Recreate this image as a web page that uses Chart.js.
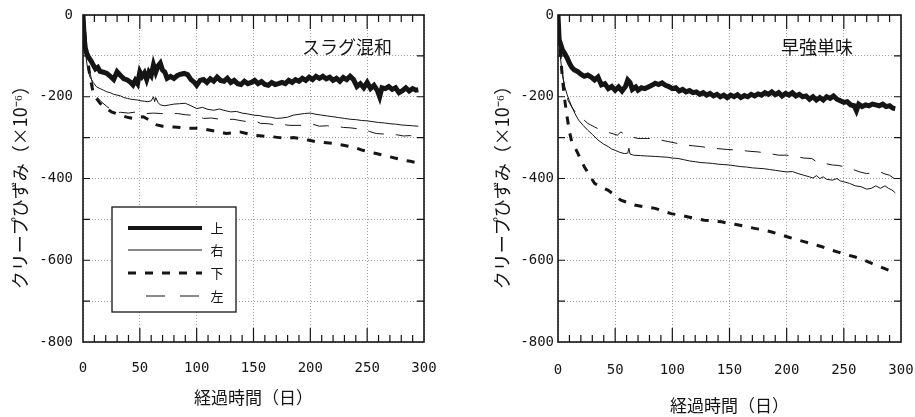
<!DOCTYPE html>
<html>
<head>
<meta charset="utf-8">
<script src="https://cdn.jsdelivr.net/npm/chart.js@4/dist/chart.umd.min.js"></script>
<style>
html, body { margin:0; padding:0; background:#fff; }
#wrap { position:relative; width:915px; height:417px; overflow:hidden; }
#left { position:absolute; left:0; top:0; }
#right { position:absolute; left:457px; top:0; }
</style>
</head>
<body>
<div id="wrap">
  <canvas id="left" width="457" height="417"></canvas>
  <canvas id="right" width="458" height="417"></canvas>
</div>
<script>
// labels
const seriesNames = ['上', '右', '下', '左'];
const panelTitles = ['スラグ混和', '早強単味'];
const xTitle = '経過時間（日）';
const yTitle = 'クリープひずみ（×10⁻⁶）\u3000';

// スラグ混和 (left)
const slagTopDays = [0,1,2,3,5,7,9,11,13,15,18,21,24,27,30,33,36,39,42,44,46,48,50,52,54,56,58,60,62,64,66,68,70,72,74,77,80,83,86,89,92,95,98,100,103,106,109,112,115,118,121,124,127,130,133,136,139,142,145,148,151,154,157,160,163,166,169,172,175,178,181,184,187,190,193,196,199,202,205,208,211,214,217,220,223,226,229,232,235,238,241,244,247,250,253,256,259,261,263,266,269,272,275,278,281,284,287,290,293,295];
const slagTop = [0,-55,-80,-92,-104,-112,-122,-132,-128,-138,-140,-143,-150,-158,-139,-148,-156,-159,-165,-171,-160,-168,-139,-150,-142,-158,-140,-148,-122,-140,-125,-118,-135,-140,-155,-150,-155,-148,-145,-143,-146,-158,-165,-172,-160,-158,-165,-156,-162,-152,-160,-162,-155,-165,-160,-168,-170,-162,-168,-165,-160,-168,-163,-170,-172,-165,-170,-168,-165,-168,-160,-165,-158,-162,-155,-160,-152,-158,-150,-155,-150,-156,-152,-160,-155,-162,-153,-158,-150,-158,-175,-168,-178,-165,-180,-172,-185,-200,-178,-180,-175,-182,-178,-190,-185,-178,-186,-180,-184,-183];
const slagRightDays = [0,2,4,6,9,12,15,18,21,24,27,30,33,36,39,42,45,48,51,54,57,60,62,63,64,66,68,72,76,80,85,90,95,100,105,110,115,120,125,130,135,140,145,150,155,160,165,170,175,180,185,190,195,200,205,210,215,220,225,230,235,240,245,250,255,260,265,270,275,280,285,290,295];
const slagRight = [0,-90,-130,-151,-165,-176,-180,-184,-188,-190,-194,-196,-198,-202,-204,-206,-207,-208,-210,-211,-212,-210,-200,-212,-202,-214,-220,-222,-220,-218,-217,-216,-222,-229,-226,-231,-233,-230,-234,-237,-236,-240,-242,-245,-246,-249,-250,-253,-252,-250,-245,-243,-241,-240,-243,-245,-247,-249,-251,-253,-255,-256,-258,-259,-261,-263,-264,-266,-267,-269,-270,-271,-272];
const slagBottomDays = [0,3,6,9,12,15,20,25,30,35,40,44,48,53,57,61,65,70,75,80,88,95,100,106,112,120,126,132,138,144,150,158,167,173,179,185,191,198,205,212,220,228,235,241,246,252,258,264,270,276,282,288,295];
const slagBottom = [0,-80,-150,-190,-205,-216,-228,-237,-242,-247,-251,-253,-250,-249,-255,-262,-269,-272,-273,-274,-276,-277,-277,-279,-282,-286,-290,-288,-286,-290,-294,-296,-298,-300,-302,-300,-302,-306,-310,-312,-314,-318,-322,-326,-331,-335,-339,-343,-347,-351,-355,-358,-362];
const slagLeftDays = [0,3,6,9,12,16,21,25,28,33,40,47,52,56,62,68,75,83,90,100,106,113,120,126,132,140,147,153,156,163,170,176,182,190,197,203,208,215,220,225,229,235,241,246,252,258,264,270,276,282,288,292,295];
const slagLeft = [0,-95,-140,-175,-200,-212,-224,-232,-240,-238,-240,-237,-240,-241,-240,-241,-242,-241,-244,-246,-253,-252,-255,-256,-255,-259,-262,-261,-265,-266,-269,-268,-270,-270,-270,-268,-272,-271,-272,-273,-275,-276,-278,-278,-285,-290,-291,-294,-293,-296,-295,-298,-298];

// 早強単味 (right)
const earlyTopDays = [0,1,4,6,8,10,12,14,17,20,23,26,29,32,35,38,41,44,47,50,53,56,59,61,63,65,68,70,73,76,79,82,85,88,91,94,97,100,103,106,109,112,115,118,121,124,127,130,133,136,139,142,145,148,151,154,157,160,163,166,169,172,175,178,181,184,187,190,193,196,199,202,205,208,211,214,217,220,223,226,229,232,235,238,241,244,247,250,253,256,259,261,263,266,269,272,275,278,281,284,287,290,293,295];
const earlyTop = [0,-60,-86,-95,-105,-118,-128,-134,-138,-145,-150,-147,-152,-159,-152,-171,-168,-180,-175,-184,-176,-186,-175,-159,-165,-182,-176,-184,-178,-180,-176,-172,-167,-170,-166,-172,-175,-180,-178,-186,-182,-188,-185,-190,-188,-194,-190,-196,-192,-198,-194,-200,-196,-202,-196,-200,-195,-202,-197,-200,-194,-198,-193,-196,-190,-194,-188,-195,-190,-198,-192,-196,-190,-198,-194,-200,-198,-206,-200,-208,-202,-208,-200,-204,-198,-206,-210,-214,-212,-220,-222,-234,-218,-224,-220,-222,-218,-220,-222,-218,-224,-222,-228,-229];
const earlyRightDays = [0,1,2,3,4,6,8,10,12,15,18,22,26,30,35,40,44,47,50,54,58,61,62,63,66,72,78,85,90,96,100,105,110,115,120,125,130,135,140,145,150,155,160,165,170,175,180,185,190,195,200,205,210,215,220,223,226,229,232,235,240,244,247,250,255,260,265,270,274,278,282,286,289,292,295];
const earlyRight = [0,-60,-100,-127,-150,-176,-195,-210,-224,-242,-257,-270,-282,-292,-306,-316,-322,-328,-331,-336,-339,-338,-326,-340,-343,-344,-345,-346,-347,-348,-350,-351,-354,-357,-359,-361,-362,-363,-365,-366,-367,-369,-371,-372,-374,-375,-376,-378,-380,-382,-384,-383,-388,-392,-396,-399,-393,-400,-396,-402,-404,-400,-406,-408,-412,-418,-420,-426,-424,-418,-424,-418,-424,-428,-435];
const earlyBottomDays = [0,2,4,6,8,10,12,15,17.5,20,23,27,32,37,44,50,55,61,67,75,85,92,99,107,114,121,128,136,143,150,158,165,172,180,187,194,201,208,216,223,231,238,245,252,260,268,275,282,289,294];
const earlyBottom = [0,-90,-160,-210,-250,-285,-310,-325,-339,-355,-371,-390,-412,-420,-429,-442,-453,-459,-465,-469,-473,-480,-486,-490,-494,-498,-502,-504,-506,-510,-514,-518,-522,-526,-531,-537,-543,-549,-555,-561,-567,-574,-580,-586,-592,-600,-608,-616,-624,-629];
const earlyLeftDays = [0,2,4,6,9,12,15,18,22,26,32,38,45,52,55,58,64,70,78,84,90,97,104,111,118,125,132,140,148,160,166,175,183,193,200,208,215,222,228,235,240,245,250,258,264,270,276,282,286,290,294];
const earlyLeft = [0,-80,-140,-185,-210,-225,-237,-247,-255,-265,-274,-282,-288,-294,-286,-292,-298,-302,-302,-302,-306,-310,-314,-318,-320,-322,-325,-327,-329,-331,-333,-335,-338,-343,-343,-346,-350,-351,-363,-364,-367,-368,-371,-378,-384,-388,-386,-384,-389,-392,-400];

const ink = '#151515';
const pts = (d, v) => d.map((x, i) => ({x: x, y: v[i]}));

function makeSets(data) {
  return [
    {label: seriesNames[0], data: data[0], borderColor: ink, borderWidth: 5, borderDash: []},
    {label: seriesNames[1], data: data[1], borderColor: ink, borderWidth: 1, borderDash: []},
    {label: seriesNames[2], data: data[2], borderColor: ink, borderWidth: 3, borderDash: [8, 9]},
    {label: seriesNames[3], data: data[3], borderColor: ink, borderWidth: 1, borderDash: [16, 12]}
  ].map(s => Object.assign(s, {pointRadius: 0, tension: 0, fill: false}));
}

// frame, inner ticks and panel title
const framePlugin = {
  id: 'frame',
  afterDatasetsDraw(chart, args, o) {
    const {ctx, chartArea: a, scales: {x, y}} = chart;
    ctx.save();
    ctx.strokeStyle = ink;
    ctx.lineWidth = 1.2;
    ctx.beginPath();
    for (let d = 10; d < 300; d += 10) {
      const px = x.getPixelForValue(d);
      const len = d % 50 === 0 ? 14 : 7;
      ctx.moveTo(px, a.top); ctx.lineTo(px, a.top + len);
      ctx.moveTo(px, a.bottom); ctx.lineTo(px, a.bottom - len);
    }
    for (let v = -700; v < 0; v += 100) {
      const py = y.getPixelForValue(v);
      ctx.moveTo(a.left, py); ctx.lineTo(a.left + 7, py);
      ctx.moveTo(a.right, py); ctx.lineTo(a.right - 7, py);
    }
    ctx.stroke();
    ctx.lineWidth = 1.6;
    ctx.strokeRect(a.left, a.top, a.right - a.left, a.bottom - a.top);
    ctx.fillStyle = ink;
    ctx.font = '18px "Noto Sans CJK JP"';
    ctx.textAlign = 'center';
    ctx.textBaseline = 'middle';
    ctx.fillText(o.text, o.x, o.y);
    ctx.restore();
  }
};

// legend box inside the left panel
const boxPlugin = {
  id: 'box',
  afterDatasetsDraw(chart, args, o) {
    if (!o.show) return;
    const ctx = chart.ctx;
    ctx.save();
    ctx.fillStyle = '#fff';
    ctx.fillRect(112, 207, 124, 105);
    ctx.strokeStyle = ink;
    ctx.lineWidth = 1.3;
    ctx.strokeRect(112, 207, 124, 105);
    const rows = [228, 250, 273, 296];
    chart.data.datasets.forEach((ds, i) => {
      const yy = rows[i];
      ctx.strokeStyle = ds.borderColor;
      ctx.lineWidth = i === 0 ? 4 : ds.borderWidth;
      ctx.setLineDash(i === 3 ? [19, 15] : ds.borderDash);
      ctx.beginPath();
      ctx.moveTo(i === 3 ? 146 : 128, yy);
      ctx.lineTo(i === 3 ? 199 : 202, yy);
      ctx.stroke();
      ctx.setLineDash([]);
      ctx.fillStyle = ink;
      ctx.font = '13px "Noto Sans CJK JP"';
      ctx.textAlign = 'center';
      ctx.textBaseline = 'middle';
      ctx.fillText(ds.label, 217, yy);
    });
    ctx.restore();
  }
};

function makeChart(id, sets, cfg) {
  return new Chart(document.getElementById(id), {
    type: 'line',
    data: {datasets: sets},
    plugins: [framePlugin, boxPlugin],
    options: {
      responsive: false,
      animation: false,
      layout: {padding: {left: 0, right: cfg.padRight, top: 15, bottom: 0}},
      plugins: {
        legend: {display: false},
        tooltip: {enabled: false},
        frame: {text: cfg.title, x: cfg.titleX, y: 47},
        box: {show: cfg.legend}
      },
      scales: {
        x: {
          type: 'linear', min: 0, max: 300,
          afterFit: s => { s.height = 75; s.paddingLeft = 0; s.paddingRight = 0; },
          ticks: {stepSize: 50, padding: cfg.xTickPad, color: ink, font: {family: 'DejaVu Sans Mono', size: 14}},
          grid: {color: '#a0a0a0', lineWidth: 1, drawTicks: false},
          border: {display: false, dash: [1, 2]},
          title: {display: true, text: xTitle, color: ink, padding: {top: 0, bottom: cfg.xTitlePad},
                  font: {family: 'Noto Sans CJK JP', size: 17}}
        },
        y: {
          min: -800, max: 0,
          afterFit: s => { s.width = cfg.yWidth; s.paddingTop = 0; s.paddingBottom = 0; },
          ticks: {stepSize: 100, padding: cfg.yTickPad, color: ink,
                  font: {family: 'DejaVu Sans Mono', size: 14},
                  callback: v => (v % 200 === 0 ? String(v) : '')},
          grid: {color: '#a0a0a0', lineWidth: 1, drawTicks: false},
          border: {display: false, dash: [1, 2]},
          title: {display: true, text: yTitle, color: ink, padding: {top: cfg.yTitlePad, bottom: 0},
                  font: {family: 'Noto Sans CJK JP', size: 18}}
        }
      }
    }
  });
}

makeChart('left', makeSets([
  pts(slagTopDays, slagTop), pts(slagRightDays, slagRight),
  pts(slagBottomDays, slagBottom), pts(slagLeftDays, slagLeft)
]), {title: panelTitles[0], titleX: 347, legend: true, padRight: 33, yWidth: 83,
     yTickPad: 10, xTickPad: 18, xTitlePad: 9, yTitlePad: 9});

makeChart('right', makeSets([
  pts(earlyTopDays, earlyTop), pts(earlyRightDays, earlyRight),
  pts(earlyBottomDays, earlyBottom), pts(earlyLeftDays, earlyLeft)
]), {title: panelTitles[1], titleX: 360, legend: false, padRight: 14, yWidth: 101,
     yTickPad: 4, xTickPad: 20, xTitlePad: 1, yTitlePad: 34});
</script>
</body>
</html>
